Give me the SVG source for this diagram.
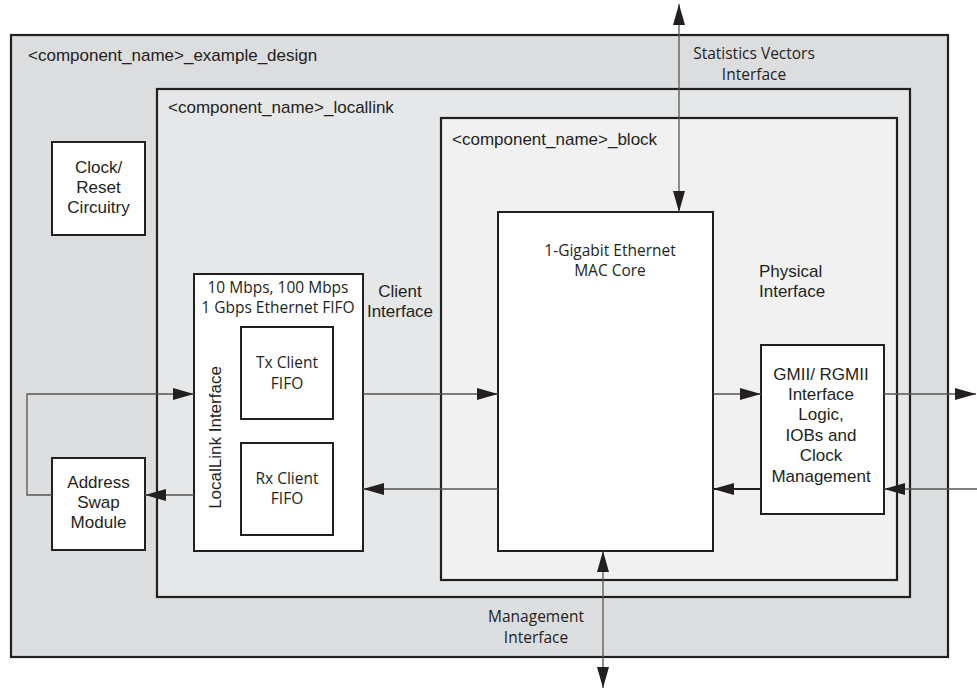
<svg xmlns="http://www.w3.org/2000/svg" width="977" height="690" viewBox="0 0 977 690">
<style>
.frame{stroke:#231f20;stroke-width:2.2}
.box{fill:#ffffff;stroke:#231f20;stroke-width:2}
.a{font-family:"Liberation Sans",Arial,sans-serif;font-size:17px;fill:#231f20}
.m{font-family:"Open Sans","Noto Sans",sans-serif;font-size:15.5px;fill:#231f20}
.c{text-anchor:middle}
.conn{fill:none;stroke:#555555;stroke-width:1.3}
</style>
<defs>
<marker id="ah" markerUnits="userSpaceOnUse" markerWidth="22" markerHeight="12" refX="21" refY="6" orient="auto-start-reverse">
<path d="M0,0 L21,6 L0,12 z" fill="#231f20"/>
</marker>
</defs>
<rect width="977" height="690" fill="#ffffff"/>
<g id="example_design">
<rect class="frame" x="11" y="35" width="937" height="622" fill="#dcdddf"/>
<text class="a" x="28" y="61">&lt;component_name&gt;_example_design</text>
</g>
<g id="locallink">
<rect class="frame" x="157" y="89" width="753" height="508" fill="#e6e7e8"/>
<text class="a" x="168" y="113">&lt;component_name&gt;_locallink</text>
</g>
<g id="block">
<rect class="frame" x="441" y="118" width="456" height="462" fill="#f1f1f2"/>
<text class="a" x="452" y="145">&lt;component_name&gt;_block</text>
</g>
<g id="clock_reset">
<rect class="box" x="52" y="142" width="93" height="93"/>
<text class="a c" x="98.5" y="173">Clock/</text>
<text class="a c" x="98.5" y="193">Reset</text>
<text class="a c" x="98.5" y="213">Circuitry</text>
</g>
<g id="address_swap">
<rect class="box" x="52" y="458" width="93" height="92"/>
<text class="a c" x="98.5" y="488">Address</text>
<text class="a c" x="98.5" y="508">Swap</text>
<text class="a c" x="98.5" y="528">Module</text>
</g>
<g id="ethernet_fifo">
<rect class="box" x="194" y="274" width="169" height="277"/>
<text class="m c" x="278" y="293">10 Mbps, 100 Mbps</text>
<text class="m c" x="278" y="313">1 Gbps Ethernet FIFO</text>
<text class="a c" transform="translate(221,437.5) rotate(-90)">LocalLink Interface</text>
</g>
<g id="tx_fifo">
<rect class="box" x="241" y="327" width="92" height="92"/>
<text class="m c" x="287" y="368">Tx Client</text>
<text class="m c" x="287" y="389">FIFO</text>
</g>
<g id="rx_fifo">
<rect class="box" x="241" y="443" width="92" height="92"/>
<text class="m c" x="287" y="484">Rx Client</text>
<text class="m c" x="287" y="504">FIFO</text>
</g>
<g id="mac_core">
<rect class="box" x="498" y="212" width="215" height="339"/>
<text class="m c" x="610" y="256">1-Gigabit Ethernet</text>
<text class="m c" x="610" y="276">MAC Core</text>
</g>
<g id="gmii">
<rect class="box" x="761" y="345" width="123" height="169"/>
<text class="a c" x="821" y="380">GMII/ RGMII</text>
<text class="a c" x="821" y="400">Interface</text>
<text class="a c" x="821" y="420">Logic,</text>
<text class="a c" x="821" y="441">IOBs and</text>
<text class="a c" x="821" y="461">Clock</text>
<text class="a c" x="821" y="482">Management</text>
</g>
<g id="labels">
<text class="m c" x="754" y="59">Statistics Vectors</text>
<text class="m c" x="754" y="80">Interface</text>
<text class="a c" x="400" y="297">Client</text>
<text class="a c" x="400" y="317">Interface</text>
<text class="a" x="759" y="277">Physical</text>
<text class="a" x="759" y="297">Interface</text>
<text class="m c" x="536" y="622">Management</text>
<text class="m c" x="536" y="643">Interface</text>
</g>
<g id="connectors">
<path class="conn" d="M679,212 V4" marker-start="url(#ah)" marker-end="url(#ah)"/>
<path class="conn" d="M603,551 V688" marker-start="url(#ah)" marker-end="url(#ah)"/>
<path class="conn" d="M52,495 H27 V394 H194" marker-end="url(#ah)"/>
<path class="conn" d="M194,495 H145" marker-end="url(#ah)"/>
<path class="conn" d="M363,394 H498" marker-end="url(#ah)"/>
<path class="conn" d="M498,489 H363" marker-end="url(#ah)"/>
<path class="conn" d="M713,394 H761" marker-end="url(#ah)"/>
<path class="conn" d="M761,489 H713" marker-end="url(#ah)" style="stroke:#231f20;stroke-width:2"/>
<path class="conn" d="M884,394 H976" marker-end="url(#ah)"/>
<path class="conn" d="M977,489 H884" marker-end="url(#ah)"/>
</g>
</svg>
